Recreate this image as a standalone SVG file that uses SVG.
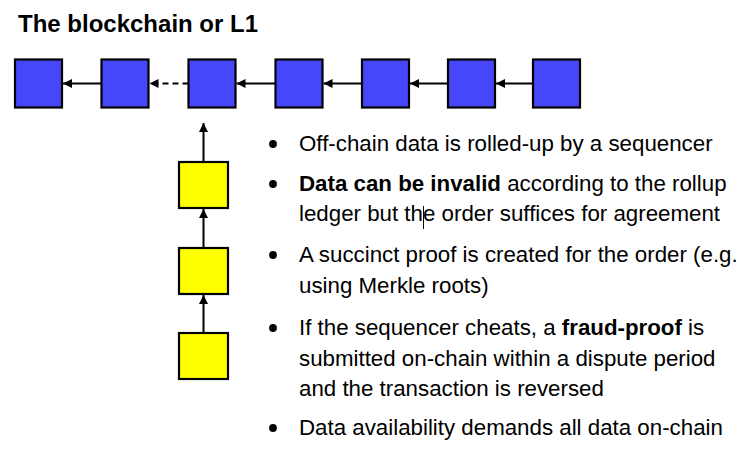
<svg xmlns="http://www.w3.org/2000/svg" width="744" height="457" viewBox="0 0 744 457">
  <style>
    .blk { fill: #4646FA; stroke: #000; stroke-width: 2.2; }
    .roll { fill: #FFFF00; stroke: #000; stroke-width: 2.2; }
    .link { stroke: #000; stroke-width: 2; fill: none; marker-end: url(#head); }
    .dash { stroke-dasharray: 6 4; }
    .title { font-family: "Liberation Sans", Arial, sans-serif; font-weight: bold; font-size: 24px; fill: #000; }
    .txt { font-family: "Liberation Sans", Arial, sans-serif; font-size: 22.3px; fill: #000; }
    .b { font-weight: bold; }
  </style>
  <defs>
    <marker id="head" viewBox="0 0 10 10" refX="10" refY="5" markerWidth="4.5" markerHeight="4.5" orient="auto" markerUnits="strokeWidth">
      <path d="M0,0 L10,5 L0,10 Z" fill="#000"/>
    </marker>
  </defs>

  <rect width="744" height="457" fill="#fff"/>

  <text class="title" x="18" y="32">The blockchain or L1</text>

  <!-- L1 chain blocks -->
  <g id="block1"><rect class="blk" x="15" y="59.5" width="47" height="48"/></g>
  <g id="block2"><rect class="blk" x="101.5" y="59.5" width="47" height="48"/></g>
  <g id="block3"><rect class="blk" x="188.5" y="59.5" width="47" height="48"/></g>
  <g id="block4"><rect class="blk" x="275.5" y="59.5" width="47" height="48"/></g>
  <g id="block5"><rect class="blk" x="362" y="59.5" width="47" height="48"/></g>
  <g id="block6"><rect class="blk" x="448" y="59.5" width="47" height="48"/></g>
  <g id="block7"><rect class="blk" x="533" y="59.5" width="47" height="48"/></g>

  <!-- rollup batches -->
  <g id="batch1"><rect class="roll" x="179" y="162" width="49" height="46"/></g>
  <g id="batch2"><rect class="roll" x="179" y="248" width="49" height="46"/></g>
  <g id="batch3"><rect class="roll" x="179" y="333" width="49" height="46"/></g>

  <!-- connectors -->
  <g id="connectors">
    <line class="link" x1="101.5" y1="83.5" x2="63" y2="83.5"/>
    <line class="link dash" x1="188.5" y1="83.5" x2="149.5" y2="83.5"/>
    <line class="link" x1="275.5" y1="83.5" x2="236.5" y2="83.5"/>
    <line class="link" x1="362" y1="83.5" x2="323.5" y2="83.5"/>
    <line class="link" x1="448" y1="83.5" x2="410" y2="83.5"/>
    <line class="link" x1="533" y1="83.5" x2="496" y2="83.5"/>
    <line class="link" x1="203.5" y1="162" x2="203.5" y2="123"/>
    <line class="link" x1="203.5" y1="248" x2="203.5" y2="209"/>
    <line class="link" x1="203.5" y1="333" x2="203.5" y2="295"/>
  </g>

  <!-- bullet list -->
  <g id="bullets">
    <circle cx="273" cy="144" r="3.9"/>
    <circle cx="273" cy="184" r="3.9"/>
    <circle cx="273" cy="255" r="3.9"/>
    <circle cx="273" cy="328" r="3.9"/>
    <circle cx="273" cy="428" r="3.9"/>
    <text class="txt" x="299" y="151">Off-chain data is rolled-up by a sequencer</text>
    <text class="txt" x="299" y="191"><tspan class="b">Data can be invalid</tspan> according to the rollup</text>
    <text class="txt" x="299" y="221">ledger but the order suffices for agreement</text>
    <line x1="423.5" y1="206" x2="423.5" y2="229" stroke="#000" stroke-width="1"/>
    <text class="txt" x="299" y="262">A succinct proof is created for the order (e.g.</text>
    <text class="txt" x="299" y="293">using Merkle roots)</text>
    <text class="txt" x="299" y="335">If the sequencer cheats, a <tspan class="b">fraud-proof</tspan> is</text>
    <text class="txt" x="299" y="366">submitted on-chain within a dispute period</text>
    <text class="txt" x="299" y="396">and the transaction is reversed</text>
    <text class="txt" x="299" y="435">Data availability demands all data on-chain</text>
  </g>
</svg>
